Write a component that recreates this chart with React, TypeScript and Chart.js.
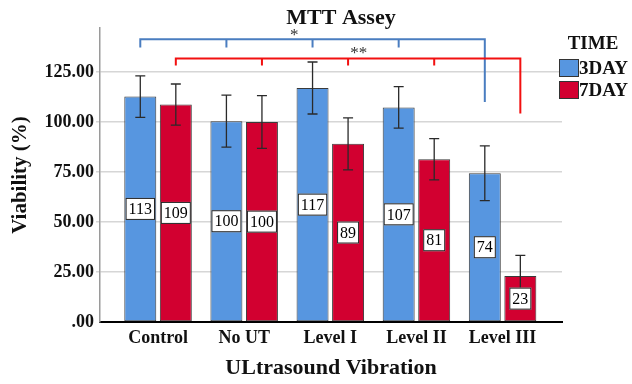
import React, { useEffect, useRef } from 'react';
import { Chart, registerables } from 'chart.js';
Chart.register(...registerables);

const categories = ['Control', 'No UT', 'Level I', 'Level II', 'Level III'];
const day3Values = [112.7, 100.4, 117.0, 107.3, 74.4];
const day7Values = [108.7, 100.0, 89.1, 81.4, 23.0];
const day3Errors = [10.4, 13.0, 13.0, 10.4, 13.7];
const day7Errors = [10.3, 13.2, 13.0, 10.3, 10.3];
const seriesNames = ['3DAY', '7DAY'];
const legendTitle = 'TIME';
const yTicks = [0, 25, 50, 75, 100, 125];
// significance brackets: [bracket level, short tick end, long end]
const blueBracket = [141.4, 137.2, 110.0];
const redBracket = [131.7, 128.3, 104.3];
const blueStars = { text: '*', x: 1.58, y: 144.5 };
const redStars = { text: '**', x: 2.33, y: 135.5 };

const BLUE = '#5796e0';
const RED = '#d20030';
const BR_BLUE = '#4a7dc0';
const BR_RED = '#f21010';
const SERIF = '"Liberation Serif", "Times New Roman", serif';

const decor = {
  id: 'decor',
  afterDatasetsDraw(chart: any) {
    const { ctx } = chart;
    const ys = chart.scales.y;
    const xs = chart.scales.x;
    const errs = [day3Errors, day7Errors];
    const vals = [day3Values, day7Values];
    // error bars
    ctx.save();
    ctx.strokeStyle = '#2a2a2a';
    ctx.lineWidth = 1.3;
    for (let d = 0; d < 2; d++) {
      const meta = chart.getDatasetMeta(d);
      meta.data.forEach((bar: any, i: number) => {
        const x = bar.x;
        const yt = ys.getPixelForValue(vals[d][i] + errs[d][i]);
        const yb = ys.getPixelForValue(vals[d][i] - errs[d][i]);
        ctx.beginPath();
        ctx.moveTo(x, yt); ctx.lineTo(x, yb);
        ctx.moveTo(x - 5, yt); ctx.lineTo(x + 5, yt);
        ctx.moveTo(x - 5, yb); ctx.lineTo(x + 5, yb);
        ctx.stroke();
      });
    }
    // value labels
    ctx.font = `16px ${SERIF}`;
    ctx.textAlign = 'center';
    ctx.textBaseline = 'middle';
    for (let d = 0; d < 2; d++) {
      const meta = chart.getDatasetMeta(d);
      meta.data.forEach((bar: any, i: number) => {
        const t = String(Math.round(vals[d][i]));
        const w = ctx.measureText(t).width + 6;
        const h = 22;
        const cy = (bar.y + bar.base) / 2;
        ctx.fillStyle = '#fff';
        ctx.fillRect(bar.x - w / 2, cy - h / 2, w, h);
        ctx.strokeStyle = '#222';
        ctx.lineWidth = 1;
        ctx.strokeRect(bar.x - w / 2 + 0.5, cy - h / 2 + 0.5, w - 1, h - 1);
        ctx.fillStyle = '#000';
        ctx.fillText(t, bar.x, cy + 1);
      });
    }
    // brackets
    const drawBracket = (d: number, spec: number[], color: string) => {
      const meta = chart.getDatasetMeta(d);
      const xsList = meta.data.map((b: any) => b.x);
      const yl = ys.getPixelForValue(spec[0]);
      const yt = ys.getPixelForValue(spec[1]);
      const ye = ys.getPixelForValue(spec[2]);
      ctx.strokeStyle = color;
      ctx.lineWidth = 2;
      ctx.beginPath();
      ctx.moveTo(xsList[0], yt);
      ctx.lineTo(xsList[0], yl);
      ctx.lineTo(xsList[xsList.length - 1], yl);
      ctx.lineTo(xsList[xsList.length - 1], ye);
      for (let i = 1; i < xsList.length - 1; i++) {
        ctx.moveTo(xsList[i], yl);
        ctx.lineTo(xsList[i], yt);
      }
      ctx.stroke();
    };
    drawBracket(0, blueBracket, BR_BLUE);
    drawBracket(1, redBracket, BR_RED);
    // stars
    ctx.fillStyle = '#333';
    ctx.font = `17px ${SERIF}`;
    [blueStars, redStars].forEach((s) => {
      ctx.fillText(s.text, xs.getPixelForValue(s.x), ys.getPixelForValue(s.y) + 3);
    });
    ctx.restore();
  },
  afterDraw(chart: any) {
    const { ctx, chartArea } = chart;
    ctx.save();
    ctx.fillStyle = '#111';
    ctx.textAlign = 'center';
    ctx.textBaseline = 'middle';
    ctx.font = `bold 22px ${SERIF}`;
    ctx.fillText('MTT Assey', (chartArea.left + chartArea.right) / 2 + 10, 18);
    // legend
    const lx = chartArea.right - 3;
    ctx.font = `bold 19px ${SERIF}`;
    ctx.fillText(legendTitle, lx + 34, 44);
    const colors = [BLUE, RED];
    seriesNames.forEach((n, i) => {
      const top = 59 + i * 22;
      ctx.fillStyle = colors[i];
      ctx.fillRect(lx, top, 20, 18);
      ctx.strokeStyle = '#333';
      ctx.lineWidth = 1;
      ctx.strokeRect(lx + 0.5, top + 0.5, 19, 17);
      ctx.fillStyle = '#111';
      ctx.textAlign = 'left';
      ctx.fillText(n, lx + 20, top + 10);
    });
    ctx.restore();
  },
};

export default function App() {
  const ref = useRef<HTMLCanvasElement>(null);
  useEffect(() => {
    document.body.style.margin = '0';
    Chart.defaults.font.family = SERIF;
    const chart = new Chart(ref.current!, {
      type: 'bar',
      data: {
        datasets: [
          {
            label: seriesNames[0],
            data: day3Values.map((v, i) => ({ x: i, y: v })),
            backgroundColor: BLUE,
            borderColor: '#3a3a3a',
            borderWidth: 1,
            borderSkipped: false,
            categoryPercentage: 0.825,
            barPercentage: 0.9,
          },
          {
            label: seriesNames[1],
            data: day7Values.map((v, i) => ({ x: i, y: v })),
            backgroundColor: RED,
            borderColor: '#3a3a3a',
            borderWidth: 1,
            borderSkipped: false,
            categoryPercentage: 0.825,
            barPercentage: 0.9,
          },
        ],
      },
      options: {
        responsive: false,
        animation: false,
        layout: { padding: { left: 8, right: 70, top: 28, bottom: 0 } },
        plugins: { legend: { display: false }, title: { display: false }, tooltip: { enabled: false } },
        scales: {
          x: {
            type: 'linear',
            offset: false,
            min: -0.674,
            max: 4.69,
            afterBuildTicks: (axis: any) => {
              axis.ticks = categories.map((_, i) => ({ value: i }));
            },
            afterFit: (scale: any) => { scale.height = 62; },
            grid: { display: false, drawTicks: false },
            border: { display: true, color: '#000', width: 2 },
            ticks: {
              autoSkip: false,
              maxRotation: 0,
              padding: 6,
              color: '#111',
              font: { size: 18, weight: 'bold' },
              callback: (v: any) => categories[Math.round(Number(v))] ?? '',
            },
            title: {
              display: true,
              text: 'ULtrasound Vibration',
              color: '#111',
              font: { size: 22, weight: 'bold' },
              padding: { top: 0, bottom: 2 },
            },
          },
          y: {
            type: 'linear',
            min: 0,
            max: 147,
            afterBuildTicks: (axis: any) => {
              axis.ticks = yTicks.map((v) => ({ value: v }));
            },
            afterFit: (scale: any) => { scale.width = 92; },
            grid: {
              color: (c: any) => (c.tick && c.tick.value === 0 ? 'rgba(0,0,0,0)' : '#d6d6d6'),
              lineWidth: 1.5,
              tickLength: 4,
            },
            border: { display: true, color: '#9a9a9a', width: 1.5 },
            ticks: {
              padding: 2,
              color: '#111',
              font: { size: 18, weight: 'bold' },
              callback: (v: any) => (Number(v) === 0 ? '.00' : Number(v).toFixed(2)),
            },
            title: {
              display: true,
              text: 'Viability (%)',
              color: '#111',
              font: { size: 21, weight: 'bold' },
              padding: 0,
            },
          },
        },
      },
      plugins: [decor],
    } as any);
    return () => chart.destroy();
  }, []);
  return (
    <div style={{ width: 632, height: 384 }}>
      <canvas ref={ref} width={632} height={384} style={{ display: 'block' }} />
    </div>
  );
}
